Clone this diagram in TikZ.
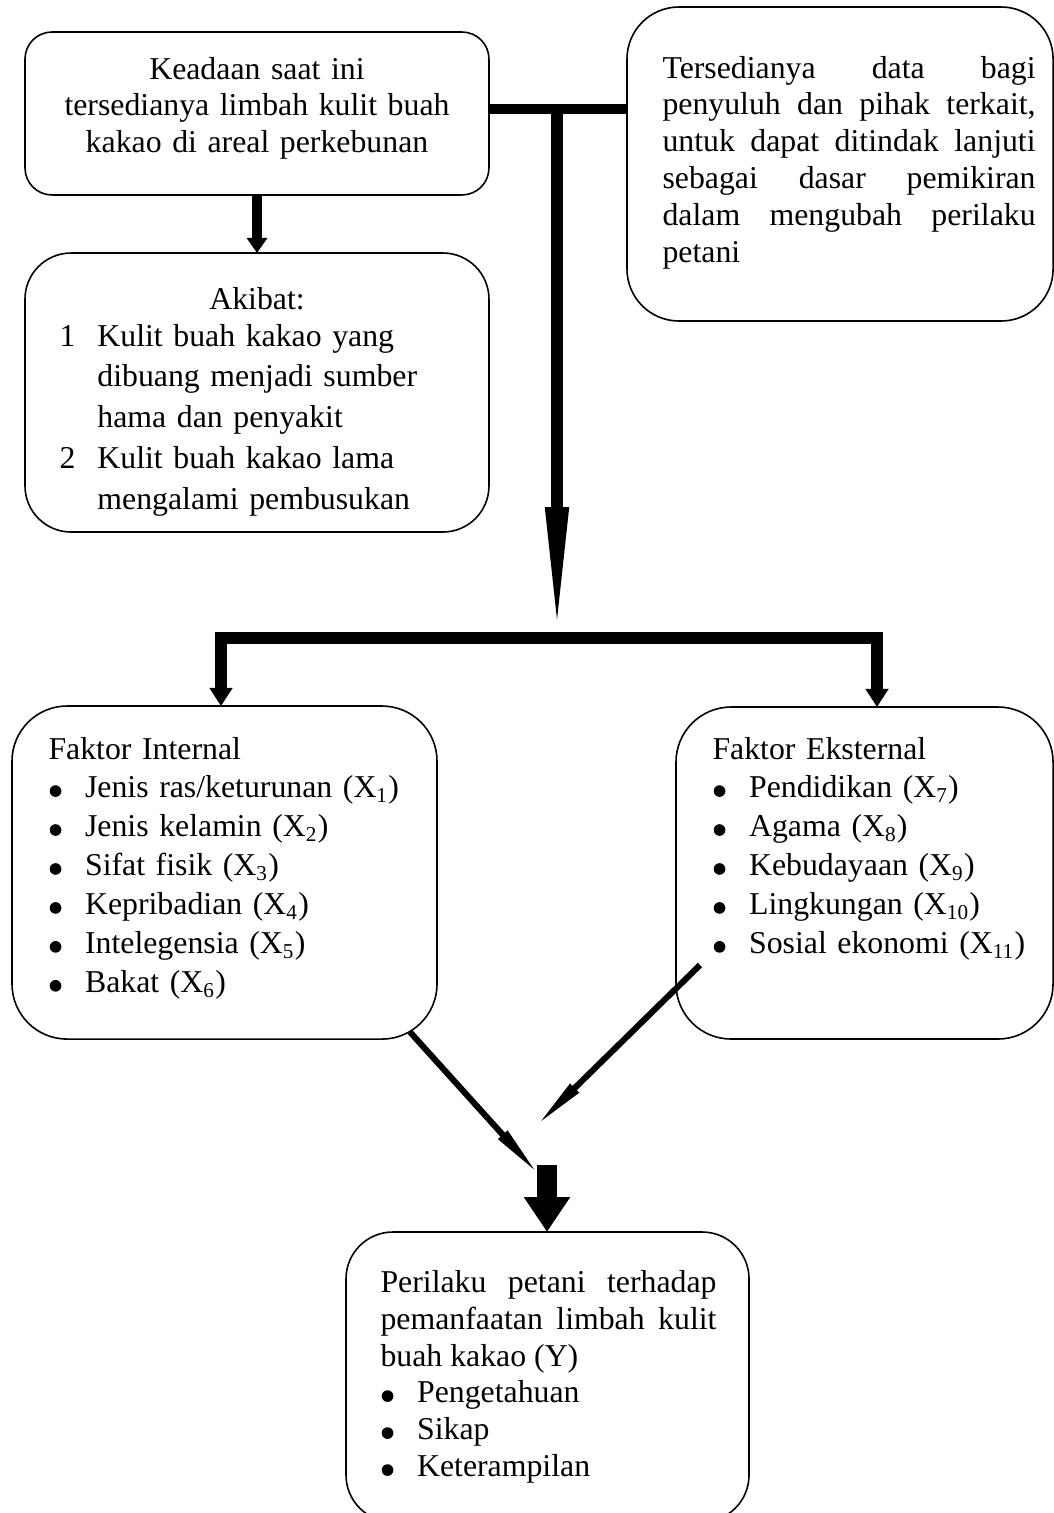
\documentclass[tikz,border=0pt]{standalone}
\usepackage{fontspec}
\setmainfont{Liberation Serif}
\usetikzlibrary{arrows.meta}
\newcommand{\itm}{\makebox[13.8pt][l]{\hspace{0.45pt}\tikz[baseline=0pt]\fill (0pt,2.6pt) circle[radius=2.2pt];}}
\newcommand{\nomor}[1]{\makebox[14.3pt][l]{#1}}

\begin{document}
\begin{tikzpicture}[x=0.3774pt,y=-0.3774pt,
    box/.style={draw,line width=0.6pt,inner sep=0pt,outer sep=0pt,anchor=north west},
    txt/.style={inner sep=0pt,align=left,font=\fontsize{12pt}{13.9pt}\selectfont},
    bar/.style={line width=3.8pt},
    fat/.style={line width=4.4pt,-{Triangle[width=8.3pt,length=6.8pt]}},
    diag/.style={line width=2.3pt,-{Triangle[width=4.2pt,length=21pt]}}]
\useasboundingbox (0,0) rectangle (1054,1513);

% kotak
\node[box,minimum width=175.1pt,minimum height=61.5pt,rounded corners=10.2pt] (kd) at (25,32) {};
\node[box,minimum width=175.1pt,minimum height=105.3pt,rounded corners=17.4pt] (ak) at (25,253) {};
\node[box,minimum width=160.8pt,minimum height=118.5pt,rounded corners=19.6pt] (td) at (627,7) {};
\node[box,minimum width=160.4pt,minimum height=125.7pt,rounded corners=20.8pt] (fi) at (12,706) {};
\node[box,minimum width=142.3pt,minimum height=125.3pt,rounded corners=20.8pt] (fe) at (676,707) {};
\node[box,minimum width=152.1pt,minimum height=109.4pt,rounded corners=17.7pt] (pp) at (346,1232) {};

% teks
\node[txt,anchor=base,text width=175pt,align=center] (kdt) at (257,79)
    {Keadaan saat ini\\ tersedianya limbah kulit buah\\ kakao di areal perkebunan};
\node[txt,anchor=base] (akh) at (257,309) {Akibat:};
\node[txt,anchor=base west,text width=160pt,font=\fontsize{12pt}{15.4pt}\selectfont] (akl) at (59,346)
    {\nomor{1}Kulit buah kakao yang\\ \hspace*{14.3pt}dibuang menjadi sumber\\ \hspace*{14.3pt}hama dan penyakit\\
     \nomor{2}Kulit buah kakao lama\\ \hspace*{14.3pt}mengalami pembusukan};
\node[txt,anchor=base west,text width=140.8pt,align=justify] (tdt) at (662,78)
    {Tersedianya data bagi\linebreak penyuluh dan pihak terkait,\linebreak untuk dapat ditindak lanjuti\linebreak
     sebagai dasar pemikiran\linebreak dalam mengubah perilaku\linebreak petani};
\node[txt,anchor=base west,text width=150pt,font=\fontsize{12pt}{14.7pt}\selectfont] (fit) at (48,759)
    {Faktor Internal\\ \itm Jenis ras/keturunan (X\textsubscript{1})\\ \itm Jenis kelamin (X\textsubscript{2})\\
     \itm Sifat fisik (X\textsubscript{3})\\ \itm Kepribadian (X\textsubscript{4})\\ \itm Intelegensia (X\textsubscript{5})\\
     \itm Bakat (X\textsubscript{6})};
\node[txt,anchor=base west,text width=135pt,font=\fontsize{12pt}{14.7pt}\selectfont] (fet) at (712,759)
    {Faktor Eksternal\\ \itm Pendidikan (X\textsubscript{7})\\ \itm Agama (X\textsubscript{8})\\
     \itm Kebudayaan (X\textsubscript{9})\\ \itm Lingkungan (X\textsubscript{10})\\ \itm Sosial ekonomi (X\textsubscript{11})};
\node[txt,anchor=base west,text width=126.8pt,align=justify,font=\fontsize{12pt}{13.96pt}\selectfont] (ppt) at (380,1292)
    {Perilaku petani terhadap\linebreak pemanfaatan limbah kulit\linebreak buah kakao (Y)\\
     \itm Pengetahuan\\ \itm Sikap\\ \itm Keterampilan};

% penghubung
\coordinate (jA) at (557,109);
\coordinate (jB) at (557,638);
\coordinate (cL) at (221,638);
\coordinate (cR) at (877,638);
\coordinate (fiOut) at (410,1032);
\coordinate (feOut) at (700,965);
\coordinate (tipL) at (540,1176);
\coordinate (tipR) at (535,1127);
\coordinate (blk) at (547,1165);

\draw[line width=3.8pt,-{Triangle[width=7.5pt,length=5.7pt]}] (kd.south -| 257,0) -- (ak.north -| 257,0);
\draw[bar] (kd.east |- jA) -- (td.west |- jA);
\draw[line width=4.2pt,-{Triangle[width=7.9pt,length=49.4pt]}] (jA) -- (jB);
\draw[fat] (jB) -- (cL) -- (cL |- fi.north);
\draw[fat] (jB) -- (cR) -- (cR |- fe.north);
\draw[diag] (fiOut) -- (tipL);
\draw[diag] (feOut) -- (tipR);
\draw[line width=7.5pt,-{Triangle[width=16.6pt,length=13.2pt]}] (blk) -- (pp.north -| blk);
\end{tikzpicture}
\end{document}
